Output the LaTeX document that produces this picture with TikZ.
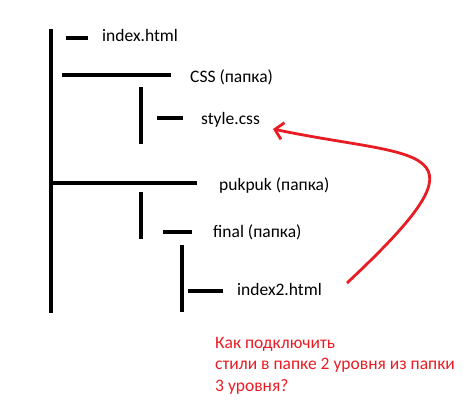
\documentclass[tikz,border=0pt]{standalone}
\usepackage{fontspec}
\setmainfont{Carlito}
\usetikzlibrary{arrows.meta}
\definecolor{inkred}{RGB}{232,28,36}
\tikzset{
  bar/.style={line width=3.8pt},
  entry/.style={anchor=base west, inner sep=0pt, font=\fontsize{17.5}{21.5}\selectfont},
}
\def\branch#1#2#3#4#5#6#7{
  % 1: y of the dash
  % 2: x start
  % 3: x end
  % 4: x of the label
  % 5: baseline of the label
  % 6: node name
  % 7: label
  \draw[bar] (#2,#1) -- (#3,#1);
  \node[entry] (#6) at (#4,#5) {#7};
}

\begin{document}
\begin{tikzpicture}[x=1pt,y=-1pt]
    \useasboundingbox (0,0) rectangle (474,400);

    % trunks
    \draw[bar] (51,29) -- (51,313);
    \draw[bar] (141,87) -- (141,144);
    \draw[bar] (141,192) -- (141,239);
    \draw[bar] (182,245) -- (182,312);

    % \branch{y}{x1}{x2}{xt}{yt}{name}{label}
    \branch{38}{66}{88}{102}{41}{idx}{index.html}
    \branch{75}{62}{171}{190}{82}{css}{CSS (папка)}
    \branch{118}{157}{183}{201}{124}{style}{style.css}
    \branch{183}{51}{197}{219}{190}{puk}{pukpuk (папка)}
    \branch{232}{163}{192}{213}{237}{fin}{final (папка)}
    \branch{291}{188}{223}{237}{295}{idxb}{index2.html}

    \coordinate (from) at (347,283);
    \coordinate (to) at (273,129);
    \draw[inkred,line width=2.8pt,-{Straight Barb[length=8pt,width=17pt]}]
      (from) .. controls (500,140) and (420,160) .. (to);

    \node[entry,anchor=north west,align=left,text=inkred] (q) at (215,337)
      {Как подключить\\стили в папке 2 уровня из папки\\3 уровня?};
\end{tikzpicture}
\end{document}
